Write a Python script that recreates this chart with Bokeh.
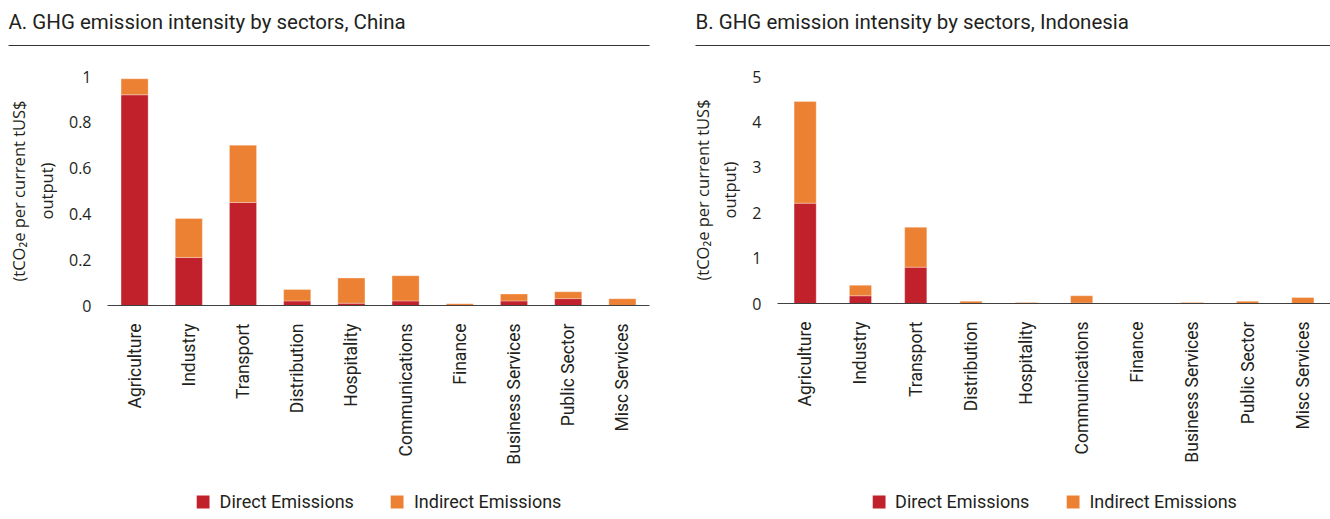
import math
from bokeh.plotting import figure
from bokeh.models import ColumnDataSource, Range1d, FixedTicker, Legend, LegendItem, Label
from bokeh.layouts import row, column
from bokeh.embed import file_html
from bokeh.resources import INLINE

# ---------------- data ----------------
categories = ["Agriculture", "Industry", "Transport", "Distribution", "Hospitality",
              "Communications", "Finance", "Business Services", "Public Sector", "Misc Services"]
series_names = ["Direct Emissions", "Indirect Emissions"]

china_direct = [0.92, 0.21, 0.45, 0.02, 0.01, 0.02, 0.0, 0.02, 0.03, 0.0]
china_indirect = [0.07, 0.17, 0.25, 0.05, 0.11, 0.11, 0.008, 0.03, 0.03, 0.03]

indonesia_direct = [2.21, 0.17, 0.80, 0.0, 0.0, 0.01, 0.0, 0.0, 0.0, 0.0]
indonesia_indirect = [2.24, 0.23, 0.88, 0.05, 0.02, 0.16, 0.0, 0.02, 0.05, 0.13]

china_yticks = [0, 0.2, 0.4, 0.6, 0.8, 1]
china_ytick_labels = ["0", "0.2", "0.4", "0.6", "0.8", "1"]
indonesia_yticks = [0, 1, 2, 3, 4, 5]
indonesia_ytick_labels = ["0", "1", "2", "3", "4", "5"]

titles = ["A. GHG emission intensity by sectors, China",
          "B. GHG emission intensity by sectors, Indonesia"]
y_axis_title = "(tCO\u2082e per current tUS$\noutput)"

# ---------------- style ----------------
RED = "#C1212B"
ORANGE = "#ED8133"
TEXT = "#231F20"
MAIN_FONT = "Roboto"
TICK_FONT = "Open Sans"

# ---------------- header (both titles with underline) ----------------
header = figure(width=1330, height=48, x_range=Range1d(0, 1330), y_range=Range1d(48, 0),
                min_border_left=0, min_border_right=0, min_border_top=0, min_border_bottom=0,
                x_axis_location=None, y_axis_location=None, outline_line_color=None,
                toolbar_location=None, output_backend="svg")
header.grid.visible = False
title_x = [8, 695]
rule_end = [649, 1330]
for tx, te, tt in zip(title_x, rule_end, titles):
    header.add_layout(Label(x=tx, y=21, text=tt, text_font=MAIN_FONT, text_font_size="20.5px",
                            text_color=TEXT, text_baseline="middle", text_align="left"))
header.segment(x0=title_x, y0=[45, 45], x1=rule_end, y1=[45, 45],
               line_color="#333333", line_width=1)


def make_panel(direct, indirect, ymax, ticks, tick_labels, bar_width,
               width, border_left, border_right, border_bottom):
    src = ColumnDataSource(dict(cat=categories, direct=direct, indirect=indirect))
    p = figure(width=width, height=435, x_range=categories, y_range=Range1d(0, ymax),
               min_border_left=border_left, min_border_right=border_right,
               min_border_top=28, min_border_bottom=border_bottom,
               outline_line_color=None, toolbar_location=None, output_backend="svg")
    p.vbar_stack(["direct", "indirect"], x="cat", width=bar_width, source=src,
                 fill_color=[RED, ORANGE], line_color="white", line_width=0.5, line_alpha=0.6)
    p.grid.visible = False

    p.yaxis.ticker = FixedTicker(ticks=ticks)
    p.yaxis.major_label_overrides = {t: l for t, l in zip(ticks, tick_labels)}
    p.yaxis.axis_line_color = None
    p.yaxis.major_tick_line_color = None
    p.yaxis.minor_tick_line_color = None
    p.yaxis.major_label_standoff = 10
    p.yaxis.major_label_text_font = TICK_FONT
    p.yaxis.major_label_text_font_size = "16px"
    p.yaxis.major_label_text_color = TEXT
    p.yaxis.axis_label = y_axis_title
    p.yaxis.axis_label_text_font = TICK_FONT
    p.yaxis.axis_label_text_font_size = "16.5px"
    p.yaxis.axis_label_text_font_style = "normal"
    p.yaxis.axis_label_text_color = TEXT
    p.yaxis.axis_label_standoff = 8

    p.xaxis.major_label_orientation = math.pi / 2
    p.xaxis.major_tick_line_color = None
    p.xaxis.minor_tick_line_color = None
    p.xaxis.axis_line_color = "#404040"
    p.xaxis.axis_line_width = 1
    p.xaxis.major_label_standoff = 12
    p.xaxis.major_label_text_font = MAIN_FONT
    p.xaxis.major_label_text_font_size = "17.5px"
    p.xaxis.major_label_text_color = TEXT

    # legend strip: same series, range set far from the data so only the legend shows
    lf = figure(width=width, height=36, x_range=categories, y_range=Range1d(100, 101),
                min_border_left=border_left, min_border_right=border_right,
                min_border_top=0, min_border_bottom=0,
                x_axis_location=None, y_axis_location=None, outline_line_color=None,
                toolbar_location=None, output_backend="svg")
    lf.grid.visible = False
    rs = lf.vbar_stack(["direct", "indirect"], x="cat", width=bar_width, source=src,
                       fill_color=[RED, ORANGE], line_color=None)
    legend = Legend(items=[LegendItem(label=n, renderers=[r]) for n, r in zip(series_names, rs)],
                    orientation="horizontal", location="center",
                    glyph_width=16, glyph_height=16, label_standoff=9, spacing=35,
                    padding=0, margin=0, border_line_color=None, background_fill_alpha=0,
                    label_text_font=MAIN_FONT, label_text_font_size="18px", label_text_color=TEXT)
    lf.add_layout(legend)

    return column(p, lf, spacing=0)


panel_a = make_panel(china_direct, china_indirect, 1, china_yticks, china_ytick_labels, 0.5,
                     width=680, border_left=107, border_right=31, border_bottom=178)
panel_b = make_panel(indonesia_direct, indonesia_indirect, 5, indonesia_yticks,
                     indonesia_ytick_labels, 0.4, width=650, border_left=97, border_right=0,
                     border_bottom=180)

layout = column(header, row(panel_a, panel_b, spacing=0), spacing=0)

with open("out.html", "w") as f:
    f.write(file_html(layout, INLINE))
